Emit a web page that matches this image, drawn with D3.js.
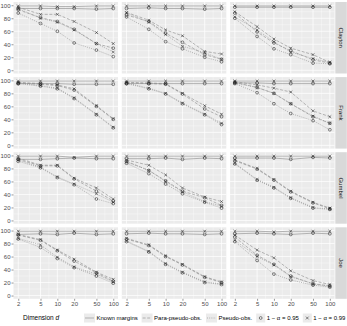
<!DOCTYPE html>
<html><head><meta charset="utf-8">
<script src="https://cdn.jsdelivr.net/npm/d3@7"></script>
<style>body{margin:0;background:#fff}svg{display:block;font-family:"Liberation Sans",Arial,sans-serif}</style>
</head><body><svg id="c" width="347" height="326"></svg>
<script>
const dims = [2, 5, 10, 20, 50, 100];
const copulas = ["Clayton", "Frank", "Gumbel", "Joe"];
const methods = ["Known margins", "Para-pseudo-obs.", "Pseudo-obs."];
const levels = ["1 − α = 0.95", "1 − α = 0.99"];
const yTicks = [0, 20, 40, 60, 80, 100];
const yMinor = [10, 30, 50, 70, 90];
const xMinor = [3.16, 7.07, 14.1, 31.6, 70.7];
// each copula: 3 columns; per column series in order
// [known .95, known .99, para .95, para .99, pseudo .95, pseudo .99]
const clayton = [
  [[95,95,95,95,94,95],[99,99,98,98,99,99],[93,81,75,63,41,34],[97,86,86,75,58,41],[88,72,60,42,31,21],[95,80,74,62,41,28]],
  [[95,96,95,95,94,95],[99,99,99,99,99,99],[85,75,57,43,24,17],[89,77,62,53,29,25],[82,63,44,33,20,13],[88,74,55,37,27,17]],
  [[97,97,97,97,97,97],[99,99,99,99,99,99],[88,59,42,30,16,11],[90,67,48,34,24,12],[80,52,33,24,11,10],[82,62,44,28,18,12]]
];
const frank = [
  [[95,95,95,94,94,94],[99,99,99,99,99,99],[96,94,92,85,60,40],[97,95,93,87,61,41],[95,91,87,72,47,27],[96,92,88,73,48,28]],
  [[95,95,95,95,95,95],[99,99,99,99,99,99],[96,95,94,79,56,44],[97,96,95,80,61,48],[95,87,79,64,47,32],[96,88,80,65,48,34]],
  [[96,96,95,95,95,95],[99,99,99,99,99,99],[97,89,80,64,44,34],[98,93,88,82,53,44],[95,81,64,49,38,24],[96,89,80,64,45,34]]
];
const gumbel = [
  [[94,94,95,96,95,95],[99,99,99,97,99,99],[94,84,84,64,45,30],[96,85,85,65,50,33],[91,81,66,55,33,26],[93,82,67,56,41,28]],
  [[95,95,96,94,96,95],[99,99,99,99,99,99],[91,77,61,45,35,23],[93,85,70,50,36,29],[88,72,56,41,28,19],[90,77,60,44,29,22]],
  [[96,96,96,94,97,96],[99,99,99,99,99,99],[92,79,62,44,27,18],[93,80,63,45,28,19],[87,62,50,34,19,17],[88,63,51,35,20,18]]
];
const joe = [
  [[94,95,94,96,94,95],[99,99,99,99,99,99],[93,85,69,53,35,22],[94,86,70,56,36,25],[87,74,57,43,30,19],[88,78,59,44,33,21]],
  [[95,96,95,95,94,95],[99,99,99,99,99,99],[87,77,60,47,28,20],[88,78,61,48,29,21],[83,67,48,35,20,17],[84,68,49,36,21,18]],
  [[95,96,95,94,96,95],[99,99,98,99,99,99],[90,62,48,30,18,15],[93,70,58,38,23,17],[83,54,33,24,16,13],[85,60,47,29,18,14]]
];
const panelsByCopula = [clayton, frank, gumbel, joe];

const svg = d3.select("#c");
const W = 104.5, H = 71.5, lefts = [13.5, 121.8, 230.1], top0 = 2, pitch = 75.1;
const stripX = 335.3, stripW = 11.5;
const lo = Math.log10(2), hi = Math.log10(100), ex = (hi - lo) * 0.05;
const x = d3.scaleLog().domain([Math.pow(10, lo - ex), Math.pow(10, hi + ex)]).range([0, W]);
const y = d3.scaleLinear().domain([-5, 105]).range([H, 0]);
const dashFor = m => m === 0 ? null : (m === 1 ? "3,1.6" : "1,1.2");
const line = d3.line().x((d, i) => x(dims[i])).y(d => y(d));
const FONT = "Liberation Sans, Arial, sans-serif";

panelsByCopula.forEach((cols, r) => {
  cols.forEach((series, c) => {
    const g = svg.append("g").attr("transform", `translate(${lefts[c]},${top0 + r * pitch})`);
    g.append("rect").attr("width", W).attr("height", H).attr("fill", "#EBEBEB");
    g.selectAll(".ym").data(yMinor).join("line").attr("x1", 0).attr("x2", W)
      .attr("y1", d => y(d)).attr("y2", d => y(d)).attr("stroke", "#fff").attr("stroke-width", 0.35);
    g.selectAll(".xm").data(xMinor).join("line").attr("y1", 0).attr("y2", H)
      .attr("x1", d => x(d)).attr("x2", d => x(d)).attr("stroke", "#fff").attr("stroke-width", 0.35);
    g.selectAll(".yM").data(yTicks).join("line").attr("x1", 0).attr("x2", W)
      .attr("y1", d => y(d)).attr("y2", d => y(d)).attr("stroke", "#fff").attr("stroke-width", 0.75);
    g.selectAll(".xM").data(dims).join("line").attr("y1", 0).attr("y2", H)
      .attr("x1", d => x(d)).attr("x2", d => x(d)).attr("stroke", "#fff").attr("stroke-width", 0.75);
    series.forEach((vals, s) => {
      const m = Math.floor(s / 2);
      g.append("path").attr("d", line(vals)).attr("fill", "none")
        .attr("stroke", "#8a8a8a").attr("stroke-width", 0.6)
        .attr("stroke-dasharray", dashFor(m));
    });
    series.forEach((vals, s) => {
      const lev = s % 2;
      vals.forEach((v, i) => {
        const px = x(dims[i]), py = y(v);
        if (lev === 0) {
          g.append("circle").attr("cx", px).attr("cy", py).attr("r", 1.4)
            .attr("fill", "none").attr("stroke", "#222").attr("stroke-width", 0.55);
        } else {
          const k = 1.4;
          g.append("path").attr("d", `M${px-k},${py-k}L${px+k},${py+k}M${px-k},${py+k}L${px+k},${py-k}`)
            .attr("stroke", "#222").attr("stroke-width", 0.55);
        }
      });
    });
    if (c === 0) {
      const ax = g.append("g").call(d3.axisLeft(y).tickValues(yTicks).tickSize(2).tickPadding(1));
      ax.select(".domain").remove();
      ax.selectAll("line").attr("stroke", "#333").attr("stroke-width", 0.5);
      ax.selectAll("text").attr("fill", "#4D4D4D").attr("font-size", 6).attr("font-family", FONT);
    }
    if (r === 3) {
      const ax = g.append("g").attr("transform", `translate(0,${H})`)
        .call(d3.axisBottom(x).tickValues(dims).tickFormat(d3.format("d")).tickSize(2).tickPadding(1));
      ax.select(".domain").remove();
      ax.selectAll("line").attr("stroke", "#333").attr("stroke-width", 0.5);
      ax.selectAll("text").attr("fill", "#4D4D4D").attr("font-size", 6).attr("font-family", FONT);
    }
  });
  const sy = top0 + r * pitch;
  svg.append("rect").attr("x", stripX).attr("y", sy).attr("width", stripW).attr("height", H).attr("fill", "#D9D9D9");
  svg.append("text").attr("transform", `translate(${stripX + stripW / 2},${sy + H / 2}) rotate(90)`)
    .attr("text-anchor", "middle").attr("dominant-baseline", "central")
    .attr("font-size", 6).attr("fill", "#1A1A1A").text(copulas[r]);
});

// axis title
svg.append("text").attr("x", 23).attr("y", 320).attr("font-size", 6.5).attr("fill", "#000")
  .html('Dimension <tspan font-style="italic">d</tspan>');

// legend
const ly = 318;
const lg = svg.append("g");
const keys = [
  {kx: 84, tx: 96.5, t: methods[0], m: 0},
  {kx: 141.6, tx: 154.1, t: methods[1], m: 1},
  {kx: 206, tx: 218.5, t: methods[2], m: 2}
];
keys.forEach(k => {
  lg.append("rect").attr("x", k.kx).attr("y", ly - 4.5).attr("width", 11).attr("height", 9).attr("fill", "#EBEBEB");
  lg.append("line").attr("x1", k.kx + 1).attr("x2", k.kx + 10).attr("y1", ly).attr("y2", ly)
    .attr("stroke", "#8a8a8a").attr("stroke-width", 0.6).attr("stroke-dasharray", dashFor(k.m));
  lg.append("text").attr("x", k.tx).attr("y", ly + 2).attr("font-size", 6).attr("fill", "#000").text(k.t);
});
const skeys = [{kx: 256.2, tx: 266.7, t: levels[0], s: 0}, {kx: 302.8, tx: 313.3, t: levels[1], s: 1}];
skeys.forEach(k => {
  lg.append("rect").attr("x", k.kx).attr("y", ly - 4.5).attr("width", 9).attr("height", 9).attr("fill", "#EBEBEB");
  const cx = k.kx + 4.5;
  if (k.s === 0) lg.append("circle").attr("cx", cx).attr("cy", ly).attr("r", 1.4).attr("fill", "none").attr("stroke", "#222").attr("stroke-width", 0.55);
  else lg.append("path").attr("d", `M${cx-1.4},${ly-1.4}L${cx+1.4},${ly+1.4}M${cx-1.4},${ly+1.4}L${cx+1.4},${ly-1.4}`).attr("stroke", "#222").attr("stroke-width", 0.55);
  lg.append("text").attr("x", k.tx).attr("y", ly + 2).attr("font-size", 6).attr("fill", "#000").text(k.t);
});
</script></body></html>
